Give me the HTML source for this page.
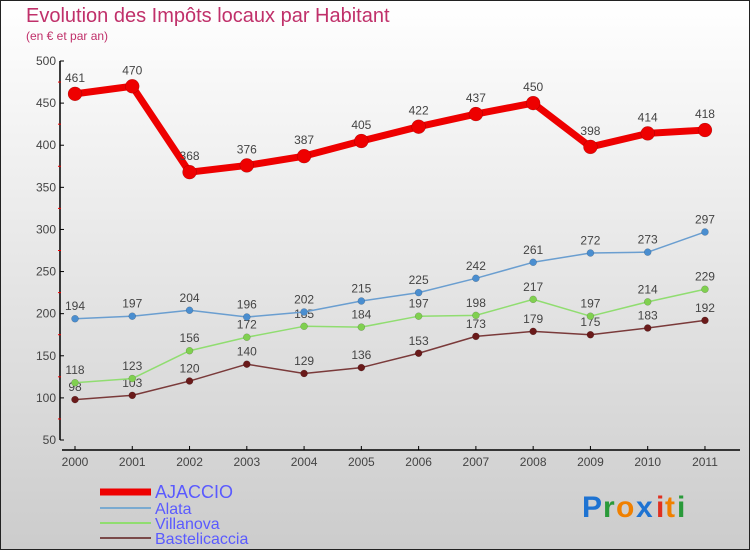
<!DOCTYPE html>
<html><head><meta charset="utf-8"><style>
body{margin:0}
#c{width:750px;height:550px;position:relative;font-family:"Liberation Sans",sans-serif}
</style></head><body>
<div id="c">
<svg id="s" width="750" height="550" xmlns="http://www.w3.org/2000/svg">
<defs><linearGradient id="bg" x1="0" y1="0" x2="0" y2="1"><stop offset="0" stop-color="#ffffff"/><stop offset="1" stop-color="#cccccc"/></linearGradient></defs>
<rect x="0.5" y="0.5" width="749" height="549" fill="url(#bg)" stroke="#222"/>
<text x="26" y="22" font-size="20" fill="#c0306a">Evolution des Impôts locaux par Habitant</text>
<text x="26" y="40" font-size="12" fill="#c0306a">(en € et par an)</text>
<g id="axes"></g><g id="series"></g><g id="legend"></g>
<g font-size="30" font-weight="bold">
<text x="582" y="517" fill="#1e73d2">P</text><text x="603" y="517" fill="#2a9a3a">r</text><text x="616" y="517" fill="#f08000">o</text><text x="636" y="517" fill="#1e73d2">x</text><text x="656" y="517" fill="#e03020">i</text><text x="665" y="517" fill="#f08000">t</text><text x="677" y="517" fill="#2a9a3a">i</text>
</g>
</svg></div>
<script>
const years=["2000","2001","2002","2003","2004","2005","2006","2007","2008","2009","2010","2011"];
const ajaccio=[461,470,368,376,387,405,422,437,450,398,414,418];
const alata=[194,197,204,196,202,215,225,242,261,272,273,297];
const villanova=[118,123,156,172,185,184,197,198,217,197,214,229];
const bastelicaccia=[98,103,120,140,129,136,153,173,179,175,183,192];
const yTicks=[50,100,150,200,250,300,350,400,450,500];
const NS="http://www.w3.org/2000/svg";
function X(i){return 75+i*57.27;}
function Y(v){return 440-(v-50)*(379/450);}
function el(t,a,p){const e=document.createElementNS(NS,t);for(const k in a)e.setAttribute(k,a[k]);p.appendChild(e);return e;}
const ax=document.getElementById('axes');
let yl=el('line',{x1:60,y1:Y(500),x2:60,y2:Y(50),stroke:'#000','stroke-width':1.5},ax);

let xl=el('line',{x1:62,y1:450,x2:740,y2:450,stroke:'#000','stroke-width':1.5},ax);

yTicks.forEach(v=>{el('line',{x1:60,y1:Y(v),x2:64,y2:Y(v),stroke:'#000'},ax);
 const t=el('text',{x:56,y:Y(v)+4,'font-size':12,fill:'#444','text-anchor':'end'},ax);t.textContent=v;
 
 if(v<500)el('line',{x1:58,y1:Y(v+25),x2:61,y2:Y(v+25),stroke:'#e00'},ax);});
years.forEach((y,i)=>{el('line',{x1:X(i),y1:446,x2:X(i),y2:450,stroke:'#000'},ax);
 const t=el('text',{x:X(i),y:466,'font-size':12,fill:'#444','text-anchor':'middle'},ax);t.textContent=y;
 });
const sg=document.getElementById('series');
function series(name,data,color,w,r,dot){
 const g=el('g',{},sg);
 el('polyline',{points:data.map((v,i)=>X(i)+','+Y(v)).join(' '),fill:'none',stroke:color,'stroke-width':w,'stroke-linejoin':'round'},g);
 data.forEach((v,i)=>{const c=el('circle',{cx:X(i),cy:Y(v),r:r,fill:dot,stroke:'#0004','stroke-width':0.5},g);
  
  const t=el('text',{x:X(i),y:Y(v)-(r+5),'font-size':12,fill:'#444','text-anchor':'middle'},g);t.textContent=v;
  });
}
series('bastelicaccia',bastelicaccia,'#7a3a3a',1.5,3.5,'#6a1a1a');
series('villanova',villanova,'#90dd70',1.5,3.5,'#80d050');
series('alata',alata,'#6a9ed0',1.5,3.5,'#4a8ed0');
series('ajaccio',ajaccio,'#ee0000',7,7,'#ee0000');
const lg=document.getElementById('legend');
[['AJACCIO','#ee0000',7,492,18],['Alata','#7aaad0',2,508,16],['Villanova','#90dd70',2,523,16],['Bastelicaccia','#7a4a4a',2,538,16]].forEach(d=>{
 const g=el('g',{},lg);
 el('line',{x1:100,y1:d[3],x2:151,y2:d[3],stroke:d[1],'stroke-width':d[2]},g);
 const t=el('text',{x:155,y:d[3]+6,'font-size':d[4],fill:'#5a5aff'},g);t.textContent=d[0];});
</script></body></html>
